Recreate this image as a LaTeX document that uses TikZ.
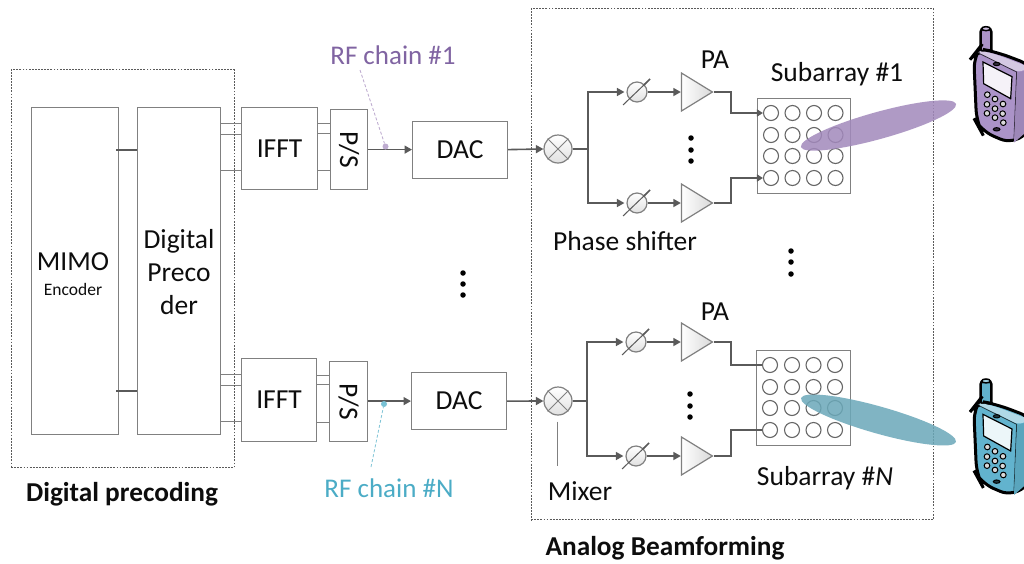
\documentclass[tikz,border=0pt]{standalone}
\usepackage{fontspec}
\setmainfont{Carlito}
\usetikzlibrary{shapes.geometric,arrows.meta,calc}
\definecolor{lnc}{HTML}{808080}
\definecolor{dkl}{HTML}{5A5A5A}
\definecolor{purp}{HTML}{8064A2}
\definecolor{beamp}{HTML}{A289BC}
\definecolor{beamt}{HTML}{6AA8B9}
\definecolor{rfb}{HTML}{4BACC6}
\definecolor{phonep}{HTML}{AB93C8}
\definecolor{phonet}{HTML}{62B3CE}
\tikzset{
  fn/.style={font=\fontsize{27.5}{33}\selectfont,text=black!95,inner sep=0pt},
  box/.style={draw=lnc,line width=1.2pt,fill=white,inner sep=0pt,anchor=north west},
  thinl/.style={draw=lnc,line width=1pt},
  thinD/.style={draw=dkl,line width=1.2pt},
  wire/.style={draw=dkl,line width=1.6pt},
  arw/.style={wire,-{Triangle[length=7.5pt,width=8pt]}},
  dbox/.style={draw=dkl,line width=1.2pt,dash pattern=on 1.8pt off 1.3pt},
  mixer/.style={circle,draw=lnc,line width=1.2pt,minimum size=28pt,inner sep=0pt,top color=white,bottom color=black!12},
  shifter/.style={circle,draw=lnc,line width=1.2pt,minimum size=20pt,inner sep=0pt,top color=white,bottom color=black!12},
  amp/.style={isosceles triangle,isosceles triangle stretches,draw=lnc,line width=1.2pt,minimum height=31pt,minimum width=38pt,inner sep=0pt,anchor=apex,left color=white,right color=black!15},
  elem/.style={circle,draw=black!60,line width=1.1pt,minimum size=15pt,inner sep=0pt},
  vdot/.style={circle,fill=black,minimum size=5.5pt,inner sep=0pt},
  beam/.style={ellipse,minimum width=161pt,minimum height=27pt,inner sep=0pt,opacity=.85},
}
% phone drawn in 3x zoom coordinates
\newcommand{\myphone}[3]{%
\begin{scope}[shift={(#1,#2)},x=.3333pt,y=-.3333pt]
 \fill[#3,draw=black,line width=2.4pt,rounded corners=3pt] (602,125) -- (602,56) -- (634,56) -- (634,130) -- cycle;
 \draw[black,line width=1.5pt,fill=#3!60!white] (618,56) ellipse (13 and 6);
 \fill[#3,draw=black,line width=3pt,rounded corners=14pt] (581,135) -- (596,116) -- (650,126) -- (760,168) -- (770,340) -- (700,404) -- (602,362) -- (590,340) -- cycle;
 \fill[#3!50!white,rounded corners=4pt] (592,128) -- (604,122) -- (650,134) -- (755,174) -- (712,186) -- cycle;
 \draw[black!70!#3,line width=.8pt] (597,130) -- (710,186) -- (702,385);
 \fill[#3!92!black] (712,188) -- (758,176) -- (768,340) -- (702,398) -- cycle;
 \fill[black!70!#3,draw=black,line width=1pt] (650,162) ellipse (10 and 5);
 \fill[black!70!#3,draw=black,line width=1pt] (650,358) ellipse (10 and 5);
 \draw[black,line width=1.2pt,fill=#3!12!white] (609,156) -- (696,200) -- (692,266) -- (611,221) -- cycle;
 \foreach \px/\py in {622/254,645/267,669/282,621/283,645/296,668/311,621/310,645/323,670/338}
   \draw[black,line width=1pt,fill=black!15] (\px,\py) circle (8.5);
\end{scope}}
\begin{document}
\begin{tikzpicture}[x=1pt,y=-1pt]
\fill[white] (0,0) rectangle (1024,563);
\path[use as bounding box,clip] (0,0) rectangle (1024,563);
% Digital part
\node[box,minimum width=87pt,minimum height=327pt] (mimo) at (31,107) {};
\node[box,minimum width=83pt,minimum height=327pt] (prec) at (137,107) {};
\node[fn,align=center] (mimot) at (73,274) {MIMO\\[-8pt]{\fontsize{17.5}{20}\selectfont Encoder}};
\node[fn,align=center] (prect) at (179,272) {Digital\\Preco\\der};
\draw[thinD] (mimo.east |- 0,150) ++(-3,0) -- (prec.west |- 0,150);
\draw[thinD] (mimo.east |- 0,391) ++(-3,0) -- (prec.west |- 0,391);
% chain 1
\node[box,minimum width=76pt,minimum height=82pt] (ifft1) at (241,107) {};
\node[fn] (ifft1t) at (ifft1.center) {IFFT};
\node[box,minimum width=37pt,minimum height=80pt] (ps1) at (330,109) {};
\node[fn,rotate=-90] (ps1t) at (ps1.center) {P/S};
\node[box,minimum width=95pt,minimum height=57pt] (dac1) at (412,120.5) {};
\node[fn] (dac1t) at (dac1.center) {DAC};
\foreach \yy in {123,134,170} \draw[thinl] (prec.east |- 0,\yy) -- (ifft1.west |- 0,\yy);
\foreach \yy in {123,133,170} \draw[thinl] (ifft1.east |- 0,\yy) -- (ps1.west |- 0,\yy);
\draw[arw] (ps1.east |- dac1.west) -- (dac1.west);
% chain N
\node[box,minimum width=75pt,minimum height=83pt] (ifft2) at (241,358) {};
\node[fn] (ifft2t) at (ifft2.center) {IFFT};
\node[box,minimum width=38pt,minimum height=80pt] (ps2) at (329,361) {};
\node[fn,rotate=-90] (ps2t) at (ps2.center) {P/S};
\node[box,minimum width=95pt,minimum height=57pt] (dac2) at (411,372) {};
\node[fn] (dac2t) at (dac2.center) {DAC};
\foreach \yy in {374,385,421} \draw[thinl] (prec.east |- 0,\yy) -- (ifft2.west |- 0,\yy);
\foreach \yy in {375,384,422} \draw[thinl] (ifft2.east |- 0,\yy) -- (ps2.west |- 0,\yy);
\draw[arw] (ps2.east |- dac2.west) -- (dac2.west);
% dashed frames
\node[dbox,anchor=north west,minimum width=223pt,minimum height=398pt,inner sep=0pt] (dig) at (10.5,69) {};
\node[dbox,anchor=north west,minimum width=402pt,minimum height=511pt,inner sep=0pt] (ana) at (530.5,8) {};
% analog 1
\node[mixer] (mix1) at (558,149) {};
\node[shifter] (ph11) at (637,92) {};
\node[shifter] (ph12) at (637,203) {};
\node[amp] (pa11) at (714,92) {};
\node[amp] (pa12) at (714,203) {};
\node[box,minimum width=93pt,minimum height=95pt] (arr1) at (757,98) {};
\foreach \i/\xx in {1/771,2/792.5,3/814,4/835.5}\foreach \j/\yy in {1/113,2/135,3/156,4/178}
  \node[elem] (e1\i\j) at (\xx,\yy) {};
% analog N
\node[mixer] (mix2) at (558,401) {};
\node[shifter] (ph21) at (636,342) {};
\node[shifter] (ph22) at (636,456) {};
\node[amp] (pa21) at (714,342) {};
\node[amp] (pa22) at (714,456) {};
\node[box,minimum width=94pt,minimum height=95pt] (arr2) at (756,350) {};
\foreach \i/\xx in {1/770,2/792,3/813.5,4/835}\foreach \j/\yy in {1/365,2/387,3/408,4/430}
  \node[elem] (e2\i\j) at (\xx,\yy) {};
% mixer crosses, shifter slashes, wiring
\foreach \m/\d/\a/\pha/\phb/\paa/\pab in {mix1/dac1/588/ph11/ph12/pa11/pa12,mix2/dac2/587/ph21/ph22/pa21/pa22}{
  \draw[thinl] (\m.north west) -- (\m.south east) (\m.north east) -- (\m.south west);
  \draw[arw] (\d.east) -- (\m.west);
  \draw[wire] (\m.east) -- (\a,0 |- \m.east);
  \draw[arw] (\a,0 |- \m.east) -- (\a,0 |- \pha.west) -- ($(\pha.west)+(-2,0)$);
  \draw[arw] (\a,0 |- \m.east) -- (\a,0 |- \phb.west) -- ($(\phb.west)+(-2,0)$);
  \draw[arw] (\pha.east) -- (\paa.west);
  \draw[arw] (\phb.east) -- (\pab.west);
  \foreach \p in {\pha,\phb}{
    \draw[thinD,line width=1pt] ($(\p.center)+(-14,13)$) -- ($(\p.center)+(10,-10)$);
    \draw[dkl,line width=1.5pt] ($(\p.center)+(7,-7)$) -- ($(\p.center)+(13,-13)$);
  }
}
\draw[wire,-{Triangle[length=6pt,width=7pt]}] (pa11.apex) -- (731,92) -- (731,0 |- e111.west) -- (e111.west);
\draw[wire,-{Triangle[length=6pt,width=7pt]}] (pa12.apex) -- (731,203) -- (731,0 |- e114.west) -- (e114.west);
\draw[wire] (pa21.apex) -- (731,342) -- (731,0 |- e211.west) -- (e211.west);
\draw[wire] (pa22.apex) -- (731,456) -- (731,0 |- e214.west) -- (e214.west);
% mixer label line
\coordinate (mixl) at (557,466);
\draw[thinl] ($(mix2.south)+(-1,6)$) -- (mixl);
% dots
\foreach \n/\xx/\yy in {a/691/138,b/691/150,c/691/161,d/690/394,e/690/406,f/690/417,g/791/251,h/791/262,i/791/274,j/463/273,k/463/284,l/463/295}
  \node[vdot] (dot\n) at (\xx,\yy) {};
% beams
\node[beam,fill=beamp,rotate=15.5] (beam1) at (878.5,125.5) {};
\node[beam,fill=beamt,rotate=-15.8] (beam2) at (878.5,420) {};
% RF chain labels
\node[font=\fontsize{27}{30}\selectfont,text=purp,inner sep=0pt] (rf1) at (393,55) {RF chain \#1};
\node[circle,fill=beamp!70!white,minimum size=6pt,inner sep=0pt] (dot1) at (385.5,146.5) {};
\coordinate (rf1c) at (360,70);
\draw[beamp!70!white,line width=.8pt,densely dashed] (rf1c) -- (dot1);
\node[font=\fontsize{27}{30}\selectfont,text=rfb,inner sep=0pt] (rf2) at (389,488) {RF chain \#N};
\node[circle,fill=rfb!75!white,minimum size=6pt,inner sep=0pt] (dot2) at (384,404) {};
\coordinate (rf2c) at (371,467);
\draw[rfb!70!white,line width=.8pt,densely dashed] (rf2c) -- (dot2);
% labels
\node[fn] (lps) at (625,241) {Phase shifter};
\node[fn] (lmix) at (580,491) {Mixer};
\node[fn] (lpa1) at (715,60) {PA};
\node[fn] (lpa2) at (715,312) {PA};
\node[fn] (lsub1) at (837,74) {Subarray \#1};
\node[fn] (lsub2) at (825,478) {Subarray \#\textit{N}};
\node[fn,font=\fontsize{27.3}{30}\selectfont\bfseries] (ldig) at (122,494) {Digital precoding};
\node[fn,font=\fontsize{27.3}{30}\selectfont\bfseries] (lana) at (665,548) {Analog Beamforming};
% phones
\myphone{780}{10}{phonep}
\myphone{780}{362.3}{phonet}
\end{tikzpicture}
\end{document}
